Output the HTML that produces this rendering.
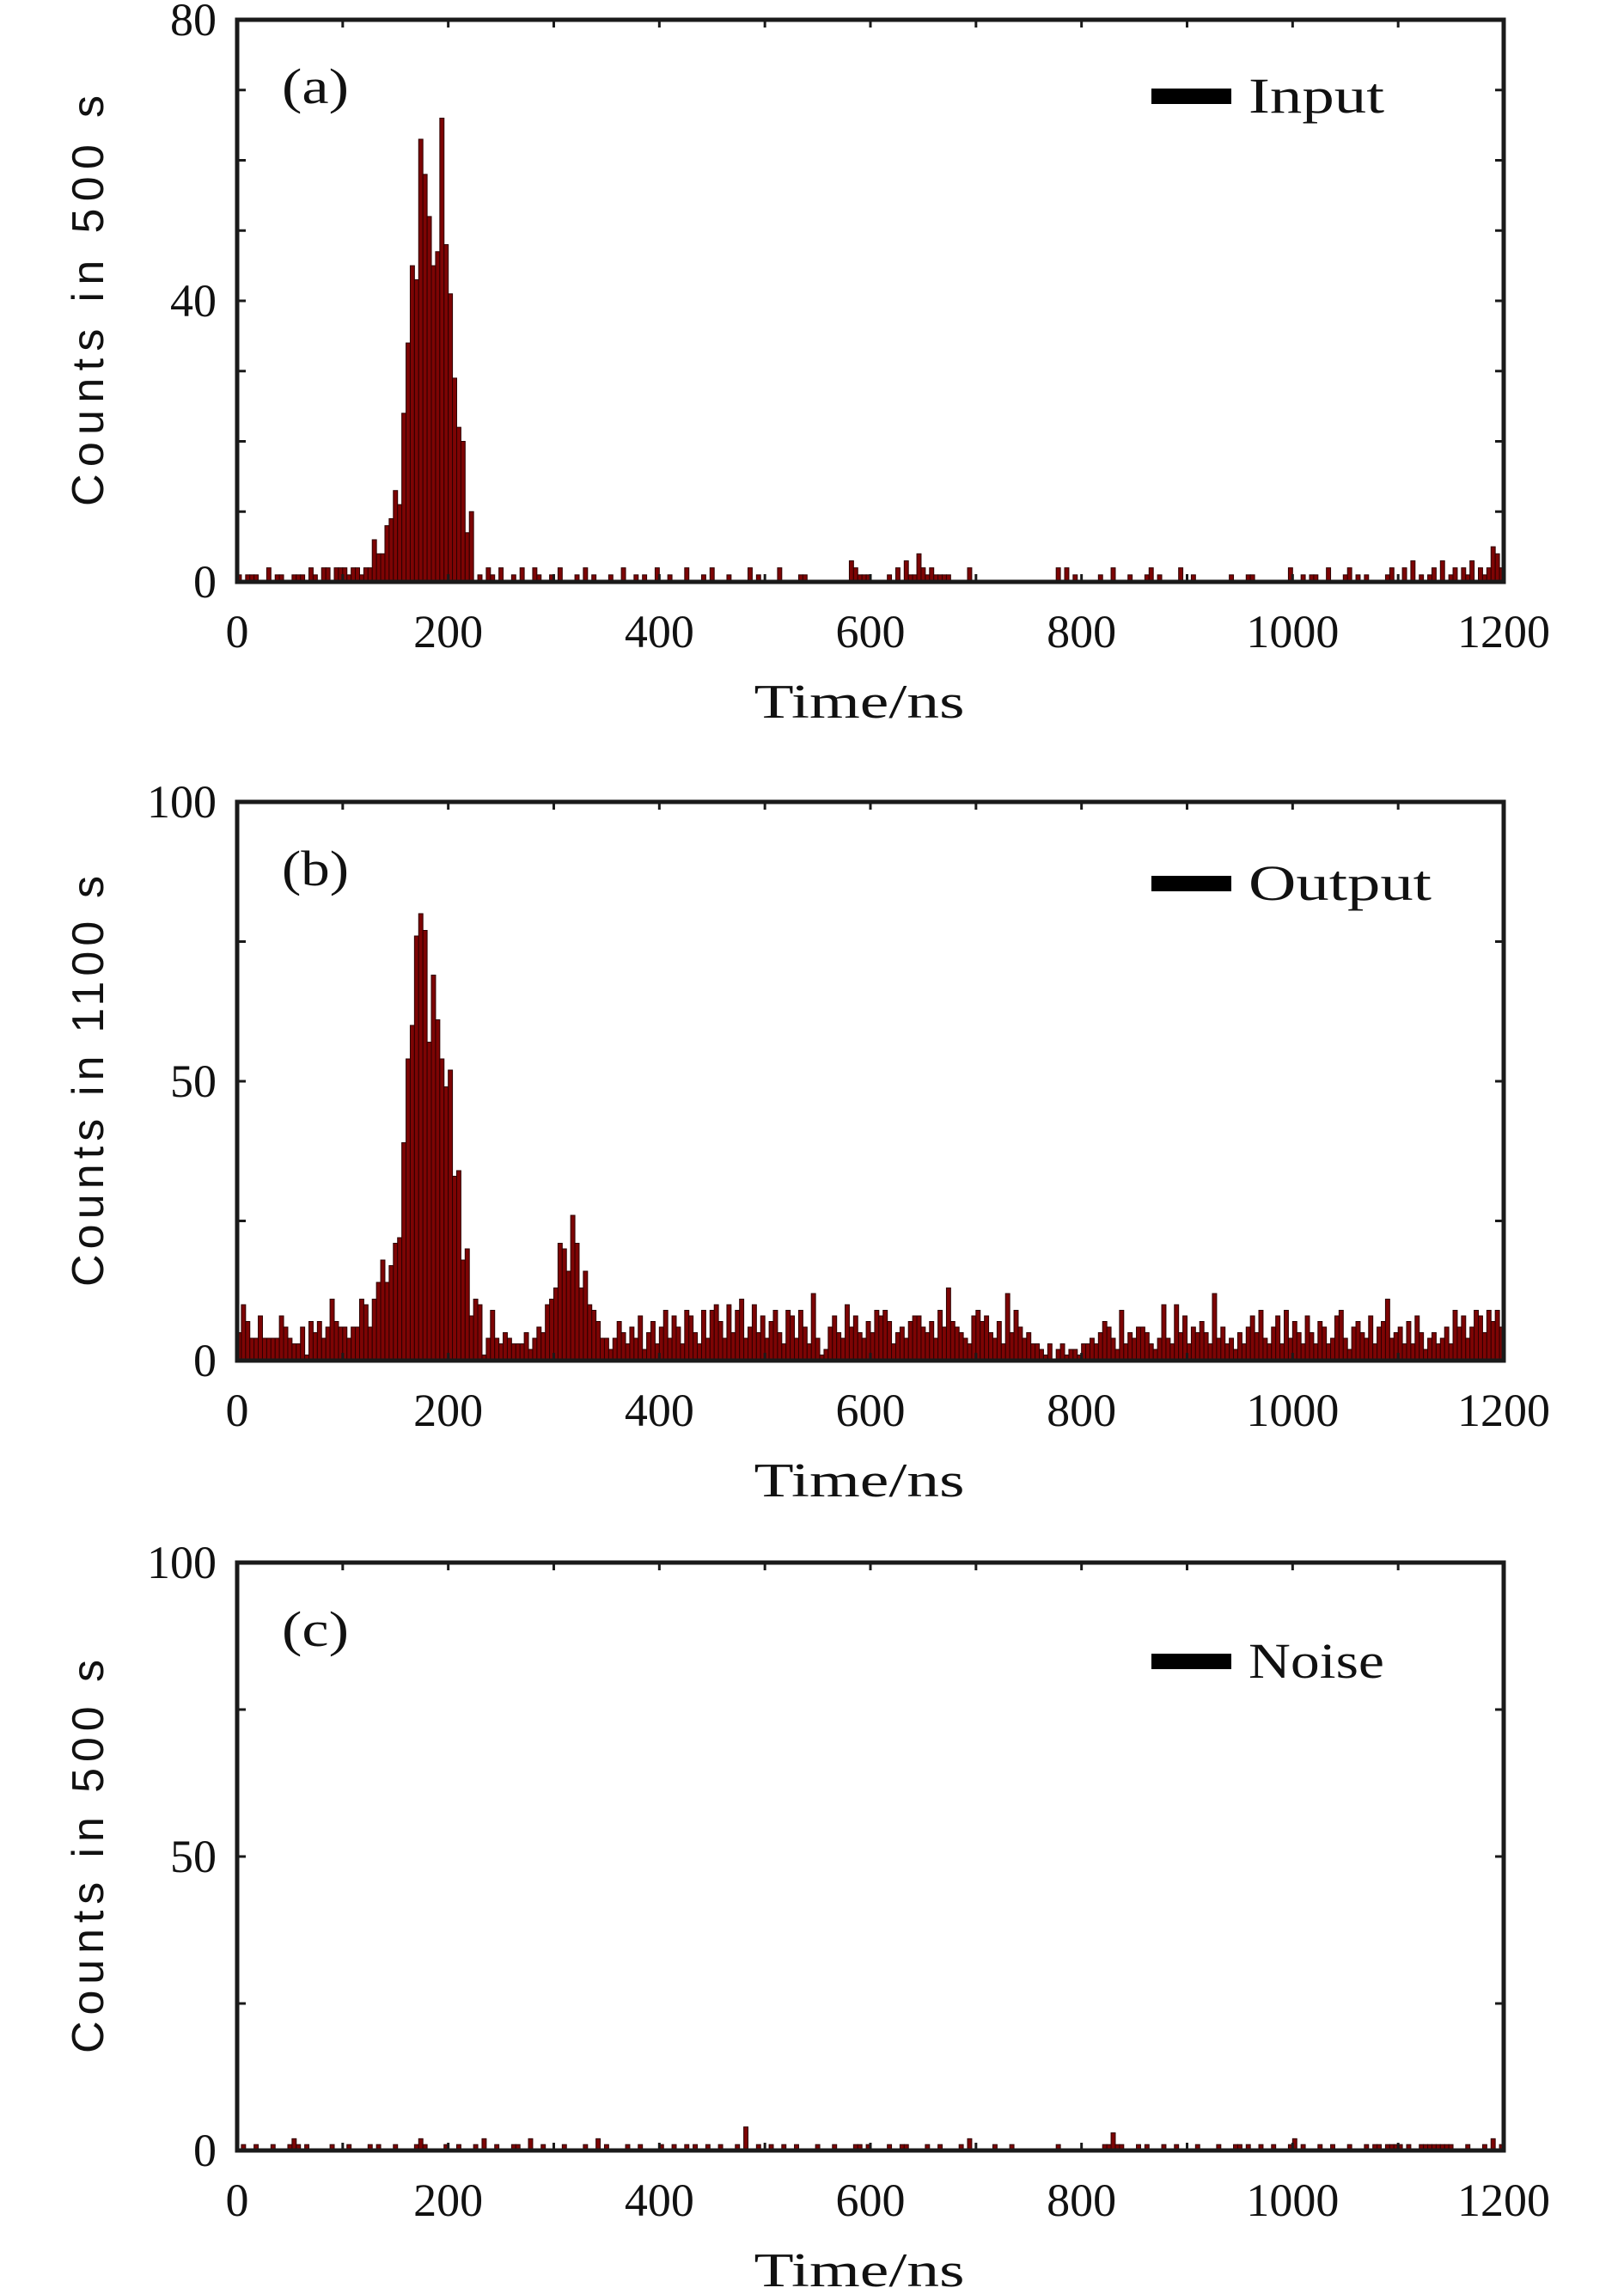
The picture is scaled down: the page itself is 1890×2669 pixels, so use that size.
<!DOCTYPE html>
<html><head><meta charset="utf-8"><style>
html,body{margin:0;padding:0;background:#fff}
svg{display:block}
text{font-family:"Liberation Serif",serif;fill:#111}
</style></head><body>
<svg id="fig" width="1890" height="2669" xmlns="http://www.w3.org/2000/svg"></svg>
<script>
const NS="http://www.w3.org/2000/svg";
const binWidthNs=4;
const xTicksMajor=[0,200,400,600,800,1000,1200];
const inputCounts=[
1,0,1,1,1,0,0,2,0,1,1,0,0,1,1,1,0,2,1,0,2,2,0,2,2,
2,1,2,2,1,2,2,6,4,4,8,9,13,11,24,34,45,43,63,58,52,45,47,66,48,41,29,22,20,7,10,
0,1,0,2,1,
0,2,0,0,1,0,2,0,0,2,1,0,0,1,0,2,0,0,0,1,
0,2,0,1,0,0,0,1,0,0,2,0,0,1,0,1,0,0,2,0,
0,1,0,0,0,2,0,0,0,1,0,2,0,0,0,1,0,0,0,0,
2,0,1,0,0,0,0,2,0,0,0,0,1,1,0,0,0,0,0,0,
0,0,0,0,3,2,1,1,1,0,0,0,0,1,0,2,0,3,1,1,
4,2,1,2,1,1,1,1,0,0,0,0,2,0,0,0,0,0,0,0,
0,0,0,0,0,0,0,0,0,0,0,0,0,2,0,2,0,1,0,0,
0,0,0,1,0,0,2,0,0,0,1,0,0,0,1,2,0,1,0,0,
0,0,2,0,0,1,0,0,0,0,0,0,0,0,1,0,0,0,1,1,
0,0,0,0,0,0,0,0,2,0,0,1,0,1,1,0,0,2,0,0,
0,1,2,0,1,0,1,0,0,0,0,1,2,0,0,2,0,3,0,1,
0,1,2,0,3,0,1,2,0,2,1,3,0,2,1,2,5,4,2];
const outputCounts=[
5,10,7,4,4,8,4,4,4,4,
8,6,4,3,3,6,1,7,5,7,
4,6,11,7,6,6,4,6,6,11,
10,6,11,14,18,14,17,21,22,39,
54,60,76,80,77,57,69,61,54,49,
52,33,34,18,20,8,11,10,1,4,
9,4,3,5,4,3,3,3,5,2,
4,6,5,10,11,13,21,20,16,26,
21,13,16,10,9,7,4,4,2,4,
7,
5,3,6,4,8,2,5,7,3,6,9,4,8,6,3,9,8,5,3,9,
4,9,10,7,4,10,5,9,11,4,6,10,5,8,4,7,9,5,3,9,
8,4,9,6,3,12,4,1,2,6,8,5,4,10,6,8,5,4,7,5,
9,8,9,7,3,5,6,4,7,8,8,6,5,7,4,9,6,13,7,6,
5,4,3,8,9,7,8,5,4,7,3,12,5,9,6,4,5,3,3,2,
1,3,0,2,3,1,2,2,1,3,3,4,3,5,7,6,4,2,9,3,
5,4,6,6,5,3,2,4,10,4,
3,10,5,8,3,6,5,7,5,3,12,4,6,3,4,2,5,3,6,8,
5,9,4,3,6,8,3,9,4,7,5,3,8,5,3,7,6,3,4,8,
9,4,2,6,7,5,4,8,3,6,7,11,4,5,6,3,7,3,8,5,
2,4,5,3,4,6,3,9,6,8,4,6,9,8,5,9,7,9,6];
const noiseCounts=[
0,1,0,0,1,0,0,0,1,0,0,0,1,2,1,0,1,0,0,0,
0,0,1,0,0,0,1,0,0,0,0,1,0,1,0,0,0,1,0,0,
0,0,1,2,1,0,0,0,0,1,0,0,1,0,0,0,1,0,2,0,
0,1,0,0,0,1,1,0,0,2,0,0,1,0,0,0,0,1,0,0,
0,0,1,0,0,2,0,1,0,0,0,0,1,0,0,1,0,0,0,0,
1,0,0,1,0,0,1,0,1,0,0,1,0,0,1,0,0,0,1,0,
4,0,0,1,0,0,1,0,0,1,0,0,1,0,0,0,0,1,0,0,
0,1,0,0,0,0,1,1,0,1,0,0,0,0,1,0,0,1,1,0,
0,0,0,1,0,0,1,0,0,0,0,1,0,2,0,0,0,0,0,1,
0,0,0,1,0,0,0,0,0,0,0,0,0,0,1,0,0,0,0,0,
0,0,0,0,0,1,1,3,1,1,0,0,0,1,0,1,0,0,0,1,
0,0,1,0,0,0,0,1,0,0,0,0,1,0,0,0,1,1,0,1,
0,0,1,0,0,1,0,0,0,1,2,0,1,0,0,0,1,0,0,1,
0,0,0,1,0,0,0,1,0,1,1,0,1,1,1,1,0,1,0,0,
1,1,1,1,1,1,1,1,0,0,0,1,0,0,0,1,0,2,0,1];
const yTicksA=[0,40,80], yMinorA=[10,20,30,50,60,70];
const yTicksB=[0,50,100], yMinorB=[25,75];

const svg=document.getElementById('fig');
function el(tag,attrs,parent){const e=document.createElementNS(NS,tag);for(const k in attrs)e.setAttribute(k,attrs[k]);(parent||svg).appendChild(e);return e;}

const L=276,R=1750;
const panels=[
 {id:'a',top:23,bottom:677,ymax:80,data:inputCounts,ticks:yTicksA,minor:yMinorA,ylabel:'Counts in 500 s',ylen:478,legend:'Input',legLen:158,legY:112,tag:'(a)'},
 {id:'b',top:933,bottom:1583,ymax:100,data:outputCounts,ticks:yTicksB,minor:yMinorB,ylabel:'Counts in 1100 s',ylen:478,legend:'Output',legLen:213,legY:1028,tag:'(b)'},
 {id:'c',top:1818,bottom:2502,ymax:100,data:noiseCounts,ticks:yTicksB,minor:yMinorB,ylabel:'Counts in 500 s',ylen:458,legend:'Noise',legLen:158,legY:1933,tag:'(c)'}
];
panels.forEach(p=>{
  const g=el('g',{});
  
  
  const xs=t=>L+(t/1200)*(R-L);
  const ys=v=>p.bottom-(v/p.ymax)*(p.bottom-p.top);
  const bars=el('g',{},g);
  
  
  p.data.forEach((v,i)=>{
    if(v<=0)return;
    const x0=xs(i*binWidthNs),x1=xs((i+1)*binWidthNs);
    const r=el('rect',{x:x0,y:ys(v),width:x1-x0,height:p.bottom-ys(v),fill:'#7d0404',stroke:'#2c0000','stroke-width':1},bars);
    
    
  });
  const fr=el('rect',{x:L,y:p.top,width:R-L,height:p.bottom-p.top,fill:'none',stroke:'#1a1a1a','stroke-width':5},g);
  
  
  for(let t=0;t<=1200;t+=100){
    const x=xs(t);
    el('line',{x1:x,x2:x,y1:p.bottom,y2:p.bottom-9,stroke:'#1a1a1a','stroke-width':3},g);
    el('line',{x1:x,x2:x,y1:p.top,y2:p.top+9,stroke:'#1a1a1a','stroke-width':3},g);
  }
  xTicksMajor.forEach(t=>{
    const tx=el('text',{x:xs(t),y:p.bottom+76,'text-anchor':'middle','font-size':54},g);
    tx.textContent=t;
    
    
  });
  p.ticks.concat(p.minor).forEach(v=>{
    const y=ys(v);
    el('line',{x1:L,x2:L+10,y1:y,y2:y,stroke:'#1a1a1a','stroke-width':3},g);
    el('line',{x1:R,x2:R-10,y1:y,y2:y,stroke:'#1a1a1a','stroke-width':3},g);
  });
  p.ticks.forEach(v=>{
    const ty=el('text',{x:252,y:ys(v)+18,'text-anchor':'end','font-size':54},g);
    ty.textContent=v;
    
    
  });
  const xl=el('text',{x:1000,y:p.bottom+158,'text-anchor':'middle','font-size':56,textLength:245,lengthAdjust:'spacingAndGlyphs'},g);
  xl.textContent='Time/ns';
  
  
  const cy=(p.top+p.bottom)/2;
  const yl=el('text',{x:0,y:0,'text-anchor':'middle','font-size':52,textLength:p.ylen,lengthAdjust:'spacing',transform:`translate(120,${cy}) rotate(-90)`,style:'font-family:"Liberation Sans",sans-serif'},g);
  yl.textContent=p.ylabel;
  
  
  const tg=el('text',{x:328,y:p.top+97,'font-size':58,textLength:78,lengthAdjust:'spacingAndGlyphs'},g);
  tg.textContent=p.tag;
  
  
  const lg=el('g',{},g);
  
  
  el('rect',{x:1340,y:p.legY-9,width:93,height:18,fill:'#000'},lg);
  const lt=el('text',{x:1453,y:p.legY+19,'font-size':58,textLength:p.legLen,lengthAdjust:'spacingAndGlyphs'},lg);
  lt.textContent=p.legend;
});
</script>
</body></html>
